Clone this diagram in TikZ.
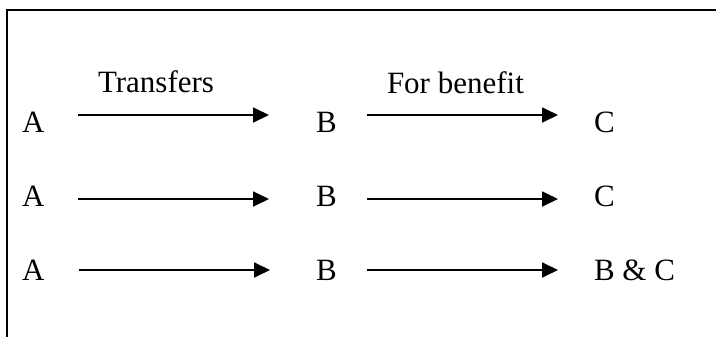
\documentclass[tikz,border=0pt]{standalone}
\usepackage{fontspec}
\setmainfont{Liberation Serif}
\usetikzlibrary{arrows.meta}

\tikzset{
  lbl/.style={anchor=base west, inner sep=0pt, outer sep=0pt,
              font=\fontsize{31bp}{37bp}\selectfont},
  arr/.style={line width=1.8bp, -{Triangle[length=16bp, width=15bp]}},
  frame/.style={line width=2.5bp}
}

\begin{document}
\begin{tikzpicture}[x=1bp, y=-1bp]
  \useasboundingbox (0,0) rectangle (716,336);

  % open frame: only top and left edges fall inside the page
  \begin{scope}
    \clip (0,0) rectangle (716,336);
    \draw[frame] (7,10) rectangle (740,360);
  \end{scope}

  % column headings
  \node[lbl] (t1) at (98,92) {Transfers};
  \node[lbl] (t2) at (387,93) {For benefit};

  % row 1
  \node[lbl] (a1) at (22,132) {A};
  \node[lbl] (b1) at (316,132) {B};
  \node[lbl] (c1) at (594,132) {C};
  \coordinate (p1) at (78,115);
  \coordinate (q1) at (269,115);
  \coordinate (r1) at (367,115);
  \coordinate (s1) at (558,115);
  \draw[arr] (p1) -- (q1);
  \draw[arr] (r1) -- (s1);

  % row 2
  \node[lbl] (a2) at (22,206) {A};
  \node[lbl] (b2) at (316,206) {B};
  \node[lbl] (c2) at (594,206) {C};
  \coordinate (p2) at (78,199);
  \coordinate (q2) at (269,199);
  \coordinate (r2) at (367,199);
  \coordinate (s2) at (558,199);
  \draw[arr] (p2) -- (q2);
  \draw[arr] (r2) -- (s2);

  % row 3
  \node[lbl] (a3) at (22,280) {A};
  \node[lbl] (b3) at (316,280) {B};
  \node[lbl] (c3) at (594,280) {B \& C};
  \coordinate (p3) at (79,270);
  \coordinate (q3) at (270,270);
  \coordinate (r3) at (367,270);
  \coordinate (s3) at (558,270);
  \draw[arr] (p3) -- (q3);
  \draw[arr] (r3) -- (s3);
\end{tikzpicture}
\end{document}
